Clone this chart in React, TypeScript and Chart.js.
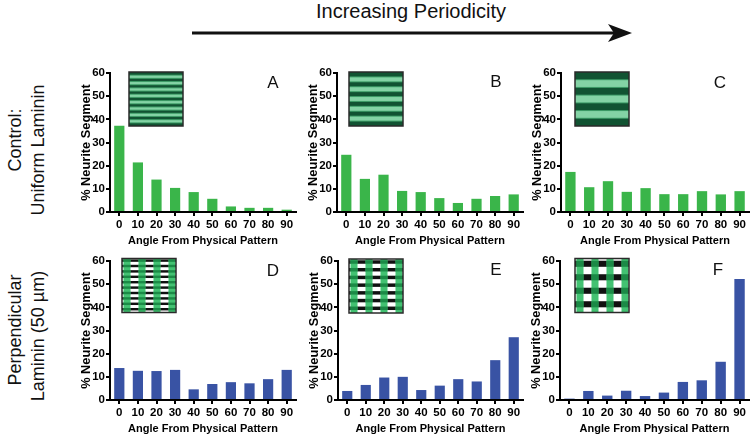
import React, { useEffect, useRef } from 'react';
import { Chart, registerables } from 'chart.js';
Chart.register(...registerables);

const categories = ['0', '10', '20', '30', '40', '50', '60', '70', '80', '90'];
const yMin = 0;
const yMax = 60;
const yStep = 10;
const valuesA = [37.2, 21.4, 14.0, 10.4, 8.6, 5.7, 2.4, 1.8, 1.8, 1.0];
const valuesB = [24.7, 14.3, 16.1, 9.1, 8.6, 6.0, 3.9, 5.7, 6.9, 7.6];
const valuesC = [17.3, 10.7, 13.3, 8.7, 10.3, 7.7, 7.7, 9.0, 7.6, 9.0];
const valuesD = [13.8, 12.6, 12.5, 13.0, 4.6, 6.9, 7.7, 7.2, 9.0, 13.0];
const valuesE = [3.9, 6.5, 9.7, 10.0, 4.3, 6.2, 9.0, 8.0, 17.2, 27.1];
const valuesF = [0.6, 3.9, 1.9, 4.0, 1.7, 3.2, 7.8, 8.5, 16.5, 52.2];
const letters = ['A', 'B', 'C', 'D', 'E', 'F'];
const yTitle = '% Neurite Segment';
const xTitle = 'Angle From Physical Pattern';

const GREEN = '#3ab54a';
const BLUE = '#3953a4';
const FONT = "'Liberation Sans', Arial, sans-serif";

type Panel = {
  values: number[];
  color: string;
  letter: string;
  l: number; t: number; w: number; h: number;
  padRight: number;
  letterX: number; letterY: number;
  insetKind: 'stripes' | 'grid';
  insetN: number;
  insetDx: number; insetDy: number;
};

const YW = 31;
const PADT = 10;
const XH = 36;

const panels: Panel[] = [
  { values: valuesA, color: GREEN, letter: letters[0], l: 110, t: 72.5, w: 186, h: 139.5, padRight: 4, letterX: 273, letterY: 83, insetKind: 'stripes', insetN: 8, insetDx: 19, insetDy: -1 },
  { values: valuesB, color: GREEN, letter: letters[1], l: 337, t: 72.5, w: 186, h: 139.5, padRight: 4, letterX: 496, letterY: 82, insetKind: 'stripes', insetN: 5, insetDx: 12, insetDy: -1 },
  { values: valuesC, color: GREEN, letter: letters[2], l: 561, t: 72.5, w: 188, h: 139.5, padRight: 1, letterX: 720, letterY: 83, insetKind: 'stripes', insetN: 3, insetDx: 14, insetDy: -1 },
  { values: valuesD, color: BLUE, letter: letters[3], l: 110, t: 261, w: 186, h: 139, padRight: 4, letterX: 273, letterY: 271, insetKind: 'grid', insetN: 10, insetDx: 12, insetDy: -2.5 },
  { values: valuesE, color: BLUE, letter: letters[4], l: 338, t: 261, w: 185, h: 139, padRight: 4, letterX: 496, letterY: 270, insetKind: 'grid', insetN: 7, insetDx: 11, insetDy: -2 },
  { values: valuesF, color: BLUE, letter: letters[5], l: 560, t: 261, w: 189, h: 139, padRight: 1, letterX: 718, letterY: 270, insetKind: 'grid', insetN: 4, insetDx: 15, insetDy: -2.5 },
];

function drawStripes(ctx: CanvasRenderingContext2D, x: number, y: number, s: number, n: number) {
  ctx.save();
  ctx.fillStyle = '#115332';
  ctx.fillRect(x, y, s, s);
  const bands = 2 * n + 1;
  const bh = s / bands;
  for (let i = 0; i < n; i++) {
    const yy = y + bh * (2 * i + 1);
    ctx.fillStyle = '#3f9e68';
    ctx.fillRect(x, yy - 0.5, s, bh + 1);
    ctx.fillStyle = '#84d3a5';
    ctx.fillRect(x, yy + 0.5, s, bh - 1);
  }
  ctx.strokeStyle = '#2a2a2a';
  ctx.lineWidth = 1.5;
  ctx.strokeRect(x, y, s, s);
  ctx.restore();
}

function drawGrid(ctx: CanvasRenderingContext2D, x: number, y: number, s: number, n: number) {
  ctx.save();
  ctx.fillStyle = '#ffffff';
  ctx.fillRect(x, y, s, s);
  const period = s / n;
  const rowH = period * 0.45;
  const rows: number[] = [];
  for (let i = 0; i < n; i++) rows.push(y + i * period + (period - rowH) * 0.3);
  ctx.fillStyle = '#111111';
  rows.forEach((ry) => ctx.fillRect(x, ry, s, rowH));
  const colW = 7;
  for (let c = 0; c < 4; c++) {
    const cx = x + 1.5 + c * 15;
    ctx.fillStyle = '#43c272';
    ctx.fillRect(cx, y, colW, s);
    ctx.fillStyle = '#1b8a46';
    rows.forEach((ry) => ctx.fillRect(cx, ry, colW, rowH));
  }
  ctx.strokeStyle = '#2a2a2a';
  ctx.lineWidth = 1.5;
  ctx.strokeRect(x, y, s, s);
  ctx.restore();
}

function PanelChart({ p }: { p: Panel }) {
  const ref = useRef<HTMLCanvasElement | null>(null);
  const cw = YW + p.w + p.padRight;
  const ch = PADT + p.h + XH;
  const left = p.l - YW;
  const top = p.t - PADT;
  useEffect(() => {
    if (!ref.current) return;
    const decor = {
      id: 'decor',
      afterDraw(chart: any) {
        const ctx = chart.ctx as CanvasRenderingContext2D;
        const a = chart.chartArea;
        const ix = a.left + p.insetDx;
        const iy = a.top + p.insetDy;
        if (p.insetKind === 'stripes') drawStripes(ctx, ix, iy, 54, p.insetN);
        else drawGrid(ctx, ix, iy, 54, p.insetN);
        ctx.save();
        ctx.fillStyle = '#111';
        ctx.font = "17px 'Liberation Sans', Arial, sans-serif";
        ctx.textAlign = 'center';
        ctx.textBaseline = 'middle';
        ctx.fillText(p.letter, p.letterX - left, p.letterY - top);
        ctx.restore();
      },
    };
    const chart = new Chart(ref.current, {
      type: 'bar',
      data: {
        labels: categories,
        datasets: [{ data: p.values, backgroundColor: p.color, borderWidth: 0, barPercentage: 0.55, categoryPercentage: 1 }],
      },
      options: {
        animation: false,
        responsive: false,
        devicePixelRatio: 1,
        layout: { padding: { top: PADT, right: p.padRight, left: 0, bottom: 0 } },
        plugins: { legend: { display: false }, tooltip: { enabled: false } },
        scales: {
          x: {
            afterFit: (s: any) => { s.height = XH; },
            grid: { display: true, drawOnChartArea: false, drawTicks: true, tickLength: 4, color: '#000', lineWidth: 2, offset: false },
            border: { display: true, color: '#000', width: 2 },
            ticks: { color: '#000', padding: 2, font: { family: FONT, size: 11.5, weight: 'bold' }, maxRotation: 0, autoSkip: false },
            title: { display: true, text: xTitle, color: '#000', padding: 0, font: { family: FONT, size: 11, weight: 'bold' } },
          },
          y: {
            min: yMin,
            max: yMax,
            afterFit: (s: any) => { s.width = YW; },
            grid: { display: true, drawOnChartArea: false, drawTicks: true, tickLength: 4, color: '#000', lineWidth: 2 },
            border: { display: true, color: '#000', width: 2 },
            ticks: { stepSize: yStep, color: '#000', padding: 1, font: { family: FONT, size: 11.5, weight: 'bold' } },
            title: { display: true, text: yTitle, color: '#000', padding: 0, font: { family: FONT, size: 12.8, weight: 'bold' } },
          },
        },
      },
      plugins: [decor],
    });
    return () => chart.destroy();
  }, []);
  return (
    <canvas
      ref={ref}
      width={cw}
      height={ch}
      style={{ position: 'absolute', left, top, width: cw, height: ch }}
    />
  );
}

const sideText: React.CSSProperties = {
  position: 'absolute',
  transform: 'translate(-50%, -50%) rotate(-90deg)',
  whiteSpace: 'nowrap',
  fontFamily: "'Liberation Sans', Arial, sans-serif",
  fontSize: 18,
  color: '#111',
  lineHeight: 1,
};

export default function App() {
  return (
    <div style={{ position: 'absolute', left: 0, top: 0, width: 750, height: 436, background: '#fff', overflow: 'hidden' }}>
      <div style={{ position: 'absolute', left: 411, top: 11, transform: 'translate(-50%, -50%)', whiteSpace: 'nowrap', fontFamily: "'Liberation Sans', Arial, sans-serif", fontSize: 20, color: '#111', lineHeight: 1 }}>
        Increasing Periodicity
      </div>
      <svg width={750} height={60} style={{ position: 'absolute', left: 0, top: 0 }}>
        <line x1={192} y1={33} x2={614} y2={33} stroke="#111" strokeWidth={3} />
        <polygon points="632,33 608,24 614,33 608,42" fill="#111" />
      </svg>
      <div style={{ ...sideText, left: 15, top: 140 }}>Control:</div>
      <div style={{ ...sideText, left: 38, top: 150 }}>Uniform Laminin</div>
      <div style={{ ...sideText, left: 15, top: 330 }}>Perpendicular</div>
      <div style={{ ...sideText, left: 38, top: 336 }}>Laminin (50 µm)</div>
      {panels.map((p, i) => <PanelChart key={i} p={p} />)}
    </div>
  );
}
